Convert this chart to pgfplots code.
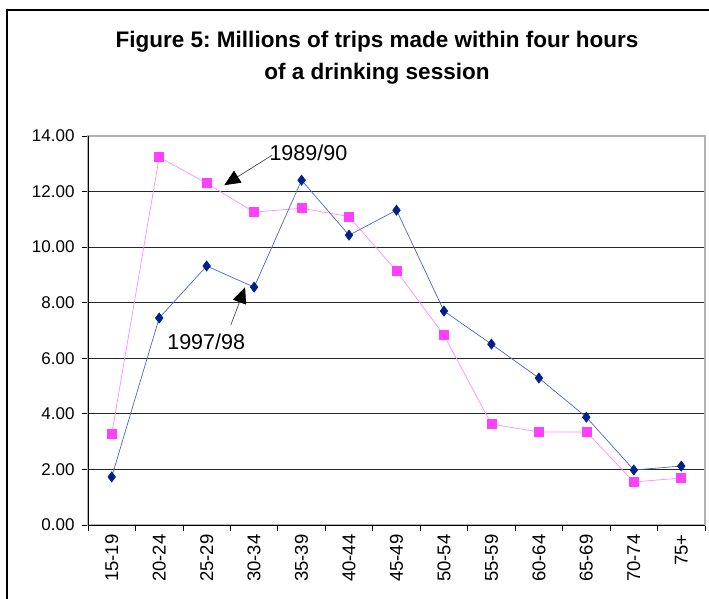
\documentclass[border=0pt]{standalone}
\usepackage{pgfplots}
\pgfplotsset{compat=1.18}
\usepackage{fontspec}
\setmainfont{Liberation Sans}
\usetikzlibrary{arrows.meta}
\definecolor{pinkm}{HTML}{FF40FF}
\definecolor{pinkl}{HTML}{FF8CFF}
\definecolor{bluem}{HTML}{002288}
\definecolor{bluel}{HTML}{4A68C0}
\frenchspacing
\begin{document}
\begin{tikzpicture}
\path[use as bounding box] (0,0) rectangle (709bp,599bp);
\draw[line width=1.2bp] (7bp,0) -- (7bp,589bp) -- (709bp,589bp);
\node[font=\fontsize{22.5bp}{27bp}\selectfont\bfseries, anchor=base, inner sep=0pt] at (377bp,551bp) {Figure 5: Millions of trips made within four hours};
\node[font=\fontsize{22.5bp}{27bp}\selectfont\bfseries, anchor=base, inner sep=0pt] at (377bp,519bp) {of a drinking session};
\begin{axis}[
  at={(88bp,74bp)}, anchor=south west,
  scale only axis, width=617bp, height=389bp,
  xmin=-0.5, xmax=12.5, ymin=0, ymax=14,
  clip=false,
  ytick={0,2,...,14},
  xtick={-0.5,0.5,...,12.5},
  xticklabels={},
  extra x ticks={0,1,...,12},
  extra x tick labels={15-19,20-24,25-29,30-34,35-39,40-44,45-49,50-54,55-59,60-64,65-69,70-74,75+},
  extra x tick style={major tick length=0pt},
  xticklabel style={rotate=90, anchor=east, xshift=-6bp, font=\fontsize{18.5bp}{20bp}\selectfont},
  yticklabel style={xshift=-4bp, font=\fontsize{17bp}{20bp}\selectfont, /pgf/number format/fixed, /pgf/number format/fixed zerofill, /pgf/number format/precision=2, /pgf/number format/assume math mode=true},
  tick align=outside, major tick length=6bp,
  tick style={black, line width=0.8bp},
  xtick pos=left, ytick pos=left,
  axis line style={draw=gray!60, line width=1.2bp},
  ymajorgrids, y grid style={black!85, line width=0.8bp},
]
\addplot[color=pinkl, line width=0.7bp, mark=square*, mark size=4.5bp, mark options={draw=pinkm, fill=pinkm}] coordinates {
(0,3.27) (1,13.24) (2,12.30) (3,11.26) (4,11.40) (5,11.10) (6,9.14) (7,6.83) (8,3.63) (9,3.35) (10,3.35) (11,1.55) (12,1.69)
};
\addplot[color=bluel, line width=0.7bp, mark=diamond*, mark size=5bp, mark options={draw=bluem, fill=bluem}] coordinates {
(0,1.73) (1,7.45) (2,9.32) (3,8.56) (4,12.41) (5,10.43) (6,11.33) (7,7.70) (8,6.51) (9,5.29) (10,3.88) (11,1.98) (12,2.12)
};
\draw[black, line width=1bp] (axis cs:-0.5,14) -- (axis cs:-0.5,0) -- (axis cs:12.5,0);
\draw[line width=0.7bp, black!70, -{Triangle[length=16bp, width=14bp, color=black, fill=black]}] (axis cs:3.38,13.31) -- (axis cs:2.37,12.23);
\node[anchor=west, inner sep=0pt, font=\fontsize{21.5bp}{24bp}\selectfont] at (axis cs:3.32,13.38) {1989/90};
\draw[line width=0.7bp, black!70, -{Triangle[length=16bp, width=14bp, color=black, fill=black]}] (axis cs:2.51,7.2) -- (axis cs:2.81,8.56);
\node[anchor=center, inner sep=0pt, font=\fontsize{21.5bp}{24bp}\selectfont] at (axis cs:1.99,6.59) {1997/98};
\end{axis}
\end{tikzpicture}
\end{document}
